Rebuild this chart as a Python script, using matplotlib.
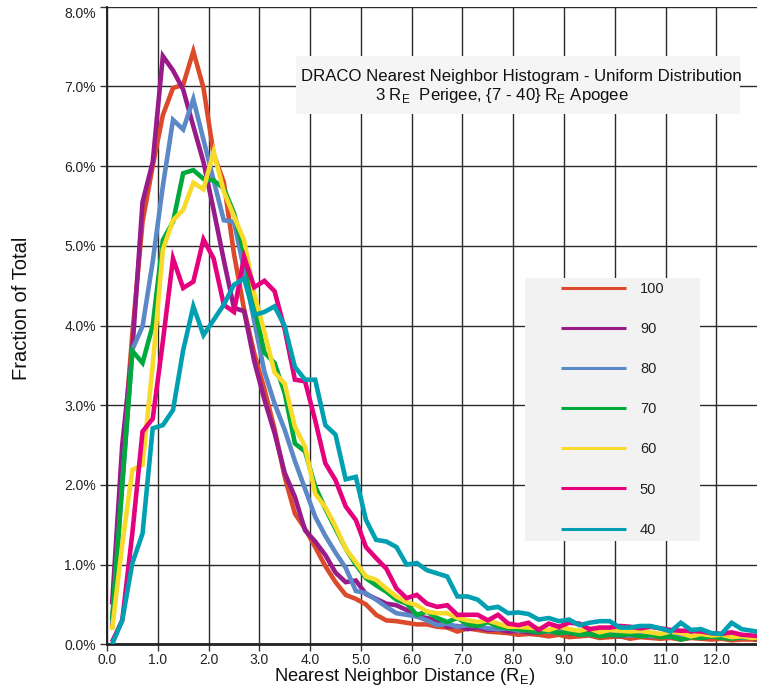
import matplotlib
matplotlib.use("Agg")
import matplotlib.pyplot as plt
import numpy as np
from matplotlib.patches import Rectangle
from matplotlib.ticker import FuncFormatter, MultipleLocator

plt.rcParams['font.family'] = ['Liberation Sans', 'DejaVu Sans']
plt.rcParams['mathtext.fontset'] = 'custom'
plt.rcParams['mathtext.rm'] = 'Liberation Sans'

# ---- data (fraction of total, %) ----
distance = [round(0.1 + 0.2 * k, 1) for k in range(65)]

s100 = [0.20, 2.30, 3.90, 5.30, 6.00, 6.64, 6.98, 7.02, 7.44, 6.98,
        6.15, 5.80, 4.90, 4.20, 3.65, 3.20, 2.70, 2.10, 1.64, 1.45,
        1.22, 0.98, 0.78, 0.62, 0.57, 0.50, 0.37, 0.30, 0.29, 0.27,
        0.25, 0.25, 0.22, 0.21, 0.16, 0.20, 0.18, 0.16, 0.15, 0.14,
        0.12, 0.13,
        0.12, 0.10, 0.12, 0.09, 0.10, 0.11, 0.08, 0.09, 0.10, 0.07,
        0.09, 0.08, 0.07, 0.08, 0.06, 0.08, 0.07, 0.06, 0.07, 0.05,
        0.06, 0.06, 0.05]
s90 = [0.50, 2.50, 3.70, 5.55, 6.05, 7.38, 7.20, 6.96, 6.50, 6.05,
       5.45, 4.82, 4.22, 4.18, 3.55, 3.07, 2.65, 2.15, 1.85, 1.43,
       1.29, 1.12, 0.90, 0.78, 0.80, 0.63, 0.57, 0.51, 0.49, 0.43,
       0.35, 0.33, 0.30, 0.22, 0.23, 0.19, 0.21, 0.18, 0.19, 0.16,
       0.17, 0.15,
       0.15, 0.17, 0.20, 0.14, 0.13, 0.15, 0.12, 0.12, 0.10, 0.13,
       0.11, 0.10, 0.12, 0.09, 0.10, 0.12, 0.08, 0.10, 0.09, 0.08,
       0.10, 0.08, 0.07]
s80 = [0.25, 2.00, 3.70, 3.99, 4.80, 5.75, 6.58, 6.46, 6.84, 6.33,
       5.82, 5.32, 5.30, 4.70, 4.05, 3.42, 3.02, 2.69, 2.30, 1.95,
       1.60, 1.36, 1.15, 0.96, 0.67, 0.64, 0.56, 0.47, 0.39, 0.37,
       0.35, 0.30, 0.24, 0.26, 0.22, 0.24, 0.23, 0.20, 0.19, 0.20,
       0.17, 0.18,
       0.17, 0.16, 0.15, 0.17, 0.14, 0.12, 0.13, 0.14, 0.12, 0.11,
       0.12, 0.10, 0.11, 0.09, 0.12, 0.10, 0.09, 0.11, 0.09, 0.10,
       0.08, 0.09, 0.07]
s70 = [0.30, 2.00, 3.68, 3.53, 4.00, 5.07, 5.30, 5.91, 5.95, 5.84,
       5.82, 5.72, 5.41, 4.91, 4.24, 3.66, 3.53, 3.15, 2.52, 2.42,
       1.98, 1.70, 1.45, 1.20, 1.00, 0.83, 0.74, 0.66, 0.56, 0.51,
       0.37, 0.41, 0.33, 0.28, 0.33, 0.25, 0.23, 0.28, 0.22, 0.20,
       0.19, 0.17,
       0.15, 0.17, 0.14, 0.15, 0.12, 0.13, 0.10, 0.12, 0.11, 0.13,
       0.10, 0.12, 0.09, 0.10, 0.06, 0.09, 0.08, 0.10, 0.08, 0.07,
       0.09, 0.08, 0.08]
s60 = [0.18, 1.25, 2.19, 2.25, 3.50, 4.95, 5.32, 5.45, 5.79, 5.71,
       6.18, 5.68, 5.37, 5.07, 4.40, 3.92, 3.41, 3.27, 2.73, 2.48,
       1.89, 1.72, 1.48, 1.20, 1.03, 0.85, 0.81, 0.70, 0.60, 0.53,
       0.49, 0.41, 0.39, 0.39, 0.33, 0.30, 0.28, 0.30, 0.26, 0.22,
       0.22, 0.21,
       0.20, 0.18, 0.22, 0.19, 0.17, 0.20, 0.15, 0.18, 0.17, 0.16,
       0.17, 0.15, 0.13, 0.16, 0.14, 0.10, 0.13, 0.11, 0.12, 0.09,
       0.10, 0.08, 0.09]
s50 = [0.03, 0.30, 1.40, 2.67, 2.83, 3.80, 4.84, 4.47, 4.55, 5.08,
       4.84, 4.26, 4.17, 4.86, 4.48, 4.56, 4.43, 3.95, 3.32, 3.30,
       2.81, 2.27, 2.06, 1.73, 1.56, 1.22, 1.08, 0.95, 0.70, 0.58,
       0.62, 0.51, 0.47, 0.49, 0.37, 0.37, 0.37, 0.30, 0.37, 0.26,
       0.24, 0.27,
       0.18, 0.26, 0.22, 0.27, 0.26, 0.19, 0.21, 0.21, 0.23, 0.22,
       0.20, 0.22, 0.20, 0.18, 0.17, 0.17, 0.16, 0.14, 0.13, 0.15,
       0.12, 0.11, 0.10]
s40 = [0.00, 0.30, 1.02, 1.39, 2.71, 2.75, 2.94, 3.69, 4.24, 3.88,
       4.07, 4.26, 4.51, 4.59, 4.13, 4.17, 4.24, 3.99, 3.48, 3.32,
       3.32, 2.75, 2.63, 2.07, 2.10, 1.56, 1.31, 1.29, 1.22, 1.00,
       1.02, 0.93, 0.89, 0.85, 0.60, 0.60, 0.56, 0.45, 0.47, 0.39,
       0.40, 0.38,
       0.31, 0.33, 0.29, 0.31, 0.24, 0.27, 0.29, 0.29, 0.21, 0.21,
       0.23, 0.23, 0.20, 0.16, 0.27, 0.18, 0.19, 0.14, 0.13, 0.27,
       0.19, 0.17, 0.15]

series_labels = ['100', '90', '80', '70', '60', '50', '40']
series_values = [s100, s90, s80, s70, s60, s50, s40]
series_colors = ['#dc4a2c', '#981b89', '#5b88c6', '#00a93c', '#f8da2a', '#e5007e', '#00a0b2']

title_line1 = 'DRACO Nearest Neighbor Histogram - Uniform Distribution'
title_line2 = r'3 R$_\mathregular{E}$  Perigee, {7 - 40} R$_\mathregular{E}$ Apogee'

# ---- figure ----
W, H = 757, 687
fig = plt.figure(figsize=(W / 100, H / 100), dpi=100)
x0, x1, ytop, ybot = 107, 757, 6.7, 644.3
ax = fig.add_axes([x0 / W, (H - ybot) / H, (x1 - x0) / W, (ybot - ytop) / H])

for vals, lab, col in zip(series_values, series_labels, series_colors):
    ax.plot(distance, vals, color=col, lw=3.3, label=lab,
            solid_joinstyle='miter', solid_capstyle='butt', zorder=3)

ax.set_xlim(0, 12.8)
ax.set_ylim(0, 8.0)
ax.xaxis.set_major_locator(MultipleLocator(1.0))
ax.yaxis.set_major_locator(MultipleLocator(1.0))
ax.xaxis.set_major_formatter(FuncFormatter(lambda v, p: f'{v:.1f}'))
ax.yaxis.set_major_formatter(FuncFormatter(lambda v, p: f'{v:.1f}%'))
ax.grid(True, color='#2a2a2a', lw=1.0, zorder=1)
ax.set_axisbelow(True)

ax.tick_params(axis='both', direction='out', length=5, width=1.0, color='#333333',
               labelsize=10, labelcolor='#222222', pad=3)
ax.tick_params(axis='x', pad=1.5)

for side in ['top', 'right']:
    ax.spines[side].set_visible(False)
ax.spines['left'].set_color('#222222')
ax.spines['left'].set_linewidth(1.4)
ax.spines['bottom'].set_color('#222222')
ax.spines['bottom'].set_linewidth(2.0)

# the top y tick label ("8.0%") hangs below its tick in the reference
ylocs = list(ax.yaxis.get_majorticklocs())
yticks = ax.yaxis.get_major_ticks(len(ylocs))
for loc, tk in zip(ylocs, yticks):
    if np.isclose(loc, 8.0):
        tk.label1.set_va('top')

ax.set_xlabel(r'Nearest Neighbor Distance (R$_\mathregular{E}$)', fontsize=13.2,
              color='#111111', va='baseline')
ax.xaxis.set_label_coords((405 - x0) / (x1 - x0), (ybot - 681) / (ybot - ytop))
ax.set_ylabel('Fraction of Total', fontsize=14.5, color='#111111', va='center')
ax.yaxis.set_label_coords((22 - x0) / (x1 - x0), (ybot - 308) / (ybot - ytop))

def ax_x(px):
    return (px - x0) / (x1 - x0)

def ax_y(py):
    return (ybot - py) / (ybot - ytop)

# title box
ax.add_patch(Rectangle((ax_x(296), ax_y(114)), ax_x(740) - ax_x(296), ax_y(56) - ax_y(114),
                       transform=ax.transAxes, facecolor='#f4f5f4', edgecolor='none', zorder=2))
ax.text(ax_x(521), ax_y(80.5), title_line1, transform=ax.transAxes, ha='center', va='baseline',
        fontsize=12.1, color='#111111', zorder=4)
ax.text(ax_x(502), ax_y(100), title_line2, transform=ax.transAxes, ha='center', va='baseline',
        fontsize=12.1, color='#111111', zorder=4)

# legend box
ax.add_patch(Rectangle((ax_x(525), ax_y(541)), ax_x(700) - ax_x(525), ax_y(278) - ax_y(541),
                       transform=ax.transAxes, facecolor='#f2f2f2', edgecolor='none', zorder=2))
leg = ax.legend(loc='upper left', bbox_to_anchor=(ax_x(561), ax_y(282)), frameon=False,
                borderaxespad=0, borderpad=0, fontsize=10.5, handlelength=4.45,
                handletextpad=0.96, labelspacing=1.79)
for line in leg.get_lines():
    line.set_linewidth(2.2)
for t in leg.get_texts():
    t.set_color('#222222')
leg.set_zorder(5)

fig.savefig('out.png', dpi=100)
